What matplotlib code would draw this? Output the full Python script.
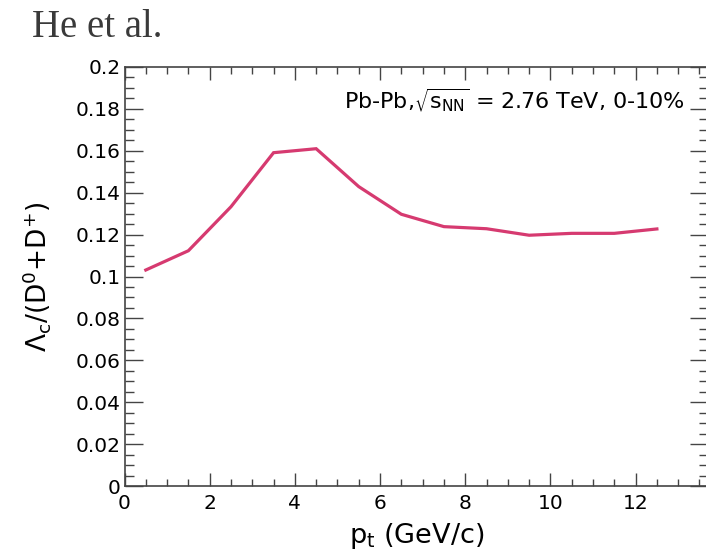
import matplotlib
matplotlib.use("Agg")
import matplotlib.pyplot as plt
from matplotlib.ticker import MultipleLocator, FormatStrFormatter

plt.rcParams['font.family'] = ['DejaVu Sans']
plt.rcParams['mathtext.fontset'] = 'dejavusans'
plt.rcParams['mathtext.default'] = 'regular'

# Lambda_c / D ratio vs pt (He et al.)
pt = [0.5, 1.5, 2.5, 3.5, 4.5, 5.5, 6.5, 7.5, 8.5, 9.5, 10.5, 11.5, 12.5]
ratio = [0.1031, 0.1123, 0.1333, 0.1591, 0.1610, 0.1429, 0.1297,
         0.1238, 0.1228, 0.1197, 0.1206, 0.1206, 0.1227]

W, H = 706, 557
fig = plt.figure(figsize=(W / 100, H / 100), dpi=100)
ax = fig.add_axes([124.5 / W, 71 / H, (708 - 124.5) / W, (486 - 67) / H])

ax.plot(pt, ratio, color='#d63a70', lw=2.3, solid_joinstyle='miter')

ax.set_xlim(0, 13.7)
ax.set_ylim(0, 0.2)
ax.xaxis.set_major_locator(MultipleLocator(2))
ax.xaxis.set_minor_locator(MultipleLocator(0.5))
ax.yaxis.set_major_locator(MultipleLocator(0.02))
ax.yaxis.set_minor_locator(MultipleLocator(0.005))
ax.yaxis.set_major_formatter(FormatStrFormatter('%g'))

for s in ax.spines.values():
    s.set_color('#444444')
    s.set_linewidth(1.2)

ax.tick_params(axis='both', which='both', direction='in', top=True, right=True,
               color='#444444', width=1.0, labelsize=14.5)
ax.tick_params(axis='x', which='major', length=9.5, pad=6)
ax.tick_params(axis='x', which='minor', length=5)
ax.tick_params(axis='y', which='major', length=13, pad=3)
ax.tick_params(axis='y', which='minor', length=6.5)

ax.set_xlabel(r'p$_{t}$ (GeV/c)', fontsize=19.5, va='baseline')
ax.xaxis.set_label_coords(0.5, -(543 - 486) / 419)
ax.set_ylabel(r'$\Lambda_{c}$/(D$^{0}$+D$^{+}$)', fontsize=19)
ax.yaxis.set_label_coords(-(124.5 - 53) / 583.5, 0.5)

fig.text(685 / W, 1 - 109 / H, r'Pb-Pb,$\sqrt{s_{NN}}$ = 2.76 TeV, 0-10%',
         ha='right', va='baseline', fontsize=16)
fig.text(32 / W, 1 - 37 / H, 'He et al.', family='Liberation Serif',
         color='#3a3a3a', fontsize=28, ha='left', va='baseline')

fig.savefig('out.png', dpi=100)
